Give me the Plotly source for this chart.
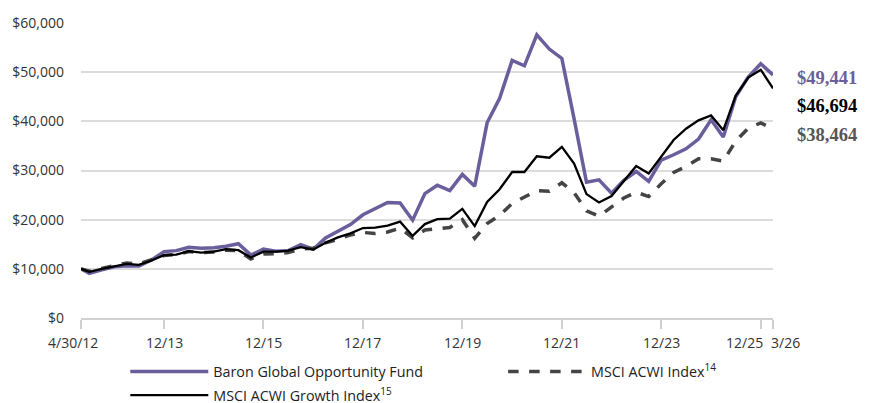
import plotly.graph_objects as go
import pandas as pd

dates = pd.date_range("2012-06-30", "2026-03-31", freq="QE").strftime("%Y-%m-%d").tolist()
dates = ["2012-04-30"] + dates

fund = [10.0, 9.1, 9.8, 10.4, 10.6, 10.6, 11.8, 13.5, 13.7, 14.4, 14.2, 14.3, 14.6, 15.1, 12.8, 14.0,
        13.6, 13.7, 14.9, 14.0, 16.3, 17.7, 19.0, 21.0, 22.3, 23.5, 23.4, 19.9, 25.3, 27.0, 25.9, 29.2,
        26.8, 39.7, 44.7, 52.4, 51.3, 57.6, 54.7, 52.8, 40.5, 27.6, 28.1, 25.4, 28.0, 29.8, 27.8, 32.1,
        33.2, 34.4, 36.4, 40.3, 36.8, 45.0, 49.0, 51.7, 49.441]
acwi = [10.0, 9.5, 10.1, 10.6, 11.2, 11.0, 11.8, 12.7, 12.9, 13.5, 13.3, 13.4, 13.8, 13.7, 12.0, 13.0,
        13.1, 13.3, 14.0, 14.2, 15.3, 16.0, 16.9, 17.4, 17.2, 17.5, 18.3, 16.3, 17.9, 18.2, 18.4, 20.0,
        16.2, 19.2, 20.9, 23.3, 24.5, 25.9, 25.8, 27.5, 25.5, 21.8, 20.7, 22.6, 24.4, 25.6, 24.7, 27.3,
        29.6, 30.8, 32.4, 32.4, 31.9, 36.0, 38.6, 39.7, 38.464]
growth = [10.0, 9.4, 10.0, 10.5, 11.0, 10.8, 11.7, 12.8, 12.9, 13.6, 13.3, 13.5, 14.0, 13.8, 12.3, 13.5,
          13.5, 13.7, 14.4, 13.9, 15.3, 16.4, 17.2, 18.3, 18.4, 18.8, 19.6, 16.7, 19.1, 20.1, 20.2, 22.2,
          18.7, 23.6, 26.2, 29.7, 29.7, 32.9, 32.6, 34.8, 31.4, 25.2, 23.5, 24.8, 27.9, 30.9, 29.4, 32.8,
          36.2, 38.5, 40.2, 41.2, 38.2, 45.2, 48.9, 50.5, 46.694]

fund = [v * 1000 for v in fund]
acwi = [v * 1000 for v in acwi]
growth = [v * 1000 for v in growth]

tick_dates = ["2012-04-30", "2013-12-31", "2015-12-31", "2017-12-31", "2019-12-31",
              "2021-12-31", "2023-12-31", "2025-12-31", "2026-03-31"]
tick_labels = ["4/30/12", "12/13", "12/15", "12/17", "12/19", "12/21", "12/23", "12/25", "3/26"]
y_ticks = [0, 10000, 20000, 30000, 40000, 50000, 60000]
y_labels = ["$0", "$10,000", "$20,000", "$30,000", "$40,000", "$50,000", "$60,000"]

PURPLE = "#6b5e9c"
GREY = "#444444"
BLACK = "#000000"
FONT = "Open Sans, Lato, sans-serif"
TICKCOL = "#333333"

fig = go.Figure()
fig.add_trace(go.Scatter(x=dates, y=fund, mode="lines", name="Baron Global Opportunity Fund",
                         line=dict(color=PURPLE, width=3.5), legend="legend", legendgroup="a"))
fig.add_trace(go.Scatter(x=dates, y=acwi, mode="lines", name="MSCI ACWI Index<sup>14</sup>",
                         line=dict(color=GREY, width=3.5, dash="dash"), legend="legend2", legendgroup="c"))
fig.add_trace(go.Scatter(x=dates, y=growth, mode="lines", name="MSCI ACWI Growth Index<sup>15</sup>",
                         line=dict(color=BLACK, width=2.3), legend="legend", legendgroup="b"))

end_labels = [(fund[-1], PURPLE, -3), (growth[-1], BLACK, -18), (acwi[-1], "#555555", -6)]
for val, col, shift in end_labels:
    fig.add_annotation(x=dates[-1], y=val, xref="x", yref="y", text=f"<b>${val:,.0f}</b>",
                       showarrow=False, xanchor="left", xshift=22, yshift=shift,
                       font=dict(family="Liberation Serif, DejaVu Serif, serif", size=18.5, color=col))

# x tick labels drawn as text at the tick dates (first and last two are offset like the original)
anchors = {0: ("center", -8), 7: ("right", 4), 8: ("left", -4)}
for i, (d, lab) in enumerate(zip(tick_dates, tick_labels)):
    xa, xs = anchors.get(i, ("center", 0))
    fig.add_annotation(x=d, y=0, xref="x", yref="paper", text=lab, showarrow=False,
                       xanchor=xa, yanchor="top", xshift=xs, yshift=-13,
                       font=dict(family=FONT, size=14, color=TICKCOL))

# the page body adds an 8px margin, so the figure is sized to fill the rest of the 870x403 window
fig.update_layout(
    width=862, height=395,
    margin=dict(l=73, r=97, t=15, b=85, autoexpand=False),
    plot_bgcolor="white", paper_bgcolor="white",
    font=dict(family=FONT, size=14, color=TICKCOL),
    showlegend=True,
    legend=dict(orientation="v", x=0.064, y=-0.128, xanchor="left", yanchor="top",
                itemwidth=78, tracegroupgap=2, bgcolor="rgba(0,0,0,0)",
                font=dict(family=FONT, size=14.3, color="#222222")),
    legend2=dict(orientation="v", x=0.61, y=-0.128, xanchor="left", yanchor="top",
                 itemwidth=78, tracegroupgap=2, bgcolor="rgba(0,0,0,0)",
                 font=dict(family=FONT, size=14.3, color="#222222")),
)
fig.update_xaxes(type="date", range=[dates[0], dates[-1]], tickvals=tick_dates,
                 ticktext=[""] * len(tick_dates),
                 tickangle=0, automargin=False,
                 showgrid=False, showline=True, linecolor="#d0d0d0", linewidth=1.5,
                 ticks="outside", ticklen=9, tickcolor="#d0d0d0", tickwidth=1.5, zeroline=False)
fig.update_yaxes(range=[0, 60000], tickvals=y_ticks, ticktext=y_labels, showgrid=True,
                 automargin=False,
                 gridcolor="#dcdcdc", gridwidth=1.5, zeroline=False, showline=False,
                 ticks="", ticklabelstandoff=16,
                 tickfont=dict(size=14, color=TICKCOL))

fig.write_html("out.html")
